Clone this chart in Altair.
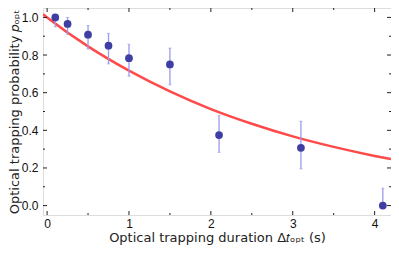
import altair as alt
import pandas as pd

# measured points
dur = [0.1, 0.25, 0.5, 0.75, 1.0, 1.5, 2.1, 3.1, 4.1]
prob = [1.0, 0.965, 0.908, 0.85, 0.783, 0.75, 0.375, 0.307, 0.0]
err_lo = [0.95, 0.91, 0.832, 0.753, 0.687, 0.642, 0.283, 0.195, 0.0]
err_hi = [1.0, 1.0, 0.957, 0.915, 0.857, 0.837, 0.478, 0.448, 0.092]

# fitted curve
fit_x = [-0.05, 0.0, 0.5, 1.0, 1.5, 2.0, 2.5, 3.0, 3.5, 4.0, 4.2]
fit_y = [1.017, 1.0, 0.846, 0.717, 0.607, 0.513, 0.435, 0.368, 0.312, 0.264, 0.247]

# axis ticks
x_major = [0, 1, 2, 3, 4]
x_minor = [0.5, 1.5, 2.5, 3.5]
y_major = [0.0, 0.2, 0.4, 0.6, 0.8, 1.0]
y_minor = [0.1, 0.3, 0.5, 0.7, 0.9]

W, H = 348, 207
XDOM = [-0.05, 4.2]
YDOM = [-0.05, 1.05]

pts = pd.DataFrame({"x": dur, "y": prob, "lo": err_lo, "hi": err_hi})
fit = pd.DataFrame({"x": fit_x, "y": fit_y})

xs = alt.Scale(domain=XDOM, nice=False, zero=False)
ys = alt.Scale(domain=YDOM, nice=False, zero=False)

xaxis = alt.Axis(values=x_major, format="d", tickSize=0, domain=False, grid=False,
                 labelFont="Liberation Sans", labelFontSize=12, labelColor="#111",
                 labelPadding=3, title="Optical trapping duration Δ𝑡ₒₚₜ (s)",
                 titleFont="DejaVu Sans", titleFontSize=13, titleFontWeight="normal",
                 titleColor="#222", titleY=16, titleBaseline="top")
yaxis = alt.Axis(values=y_major, format=".1f", tickSize=0, domain=False, grid=False,
                 labelFont="Liberation Sans", labelFontSize=12, labelColor="#111",
                 labelPadding=5, title="Optical trapping probability 𝑝ₒₚₜ",
                 titleFont="DejaVu Sans", titleFontSize=13, titleFontWeight="normal",
                 titleColor="#222", titleX=-22, titleBaseline="bottom")


def X(field):
    return alt.X(field, type="quantitative", scale=xs, axis=xaxis)


def Y(field):
    return alt.Y(field, type="quantitative", scale=ys, axis=yaxis)


curve = alt.Chart(fit).mark_line(color="#ff4a4a", strokeWidth=2.5, clip=True,
                                 interpolate="monotone").encode(x=X("x"), y=Y("y"))

bars = alt.Chart(pts).mark_rule(color="#9a9aee", strokeWidth=1.3).encode(
    x=X("x"), y=Y("lo"), y2="hi:Q")
cap_lo = alt.Chart(pts).mark_tick(color="#9a9aee", orient="horizontal", size=3,
                                  thickness=1).encode(x=X("x"), y=Y("lo"))
cap_hi = alt.Chart(pts).mark_tick(color="#9a9aee", orient="horizontal", size=3,
                                  thickness=1).encode(x=X("x"), y=Y("hi"))

dots = alt.Chart(pts).mark_circle(color="#3f3fa3", size=60, opacity=1).encode(
    x=X("x"), y=Y("y"))


def yticks(vals, length, right):
    df = pd.DataFrame({"v": vals})
    if right:
        xv, x2v = W, W - length
    else:
        xv, x2v = 0, length
    return alt.Chart(df).mark_rule(color="#222", strokeWidth=1).encode(
        y=Y("v"), x=alt.value(xv), x2=alt.value(x2v))


def xticks(vals, length, top):
    df = pd.DataFrame({"v": vals})
    if top:
        yv, y2v = 0, length
    else:
        yv, y2v = H, H - length
    return alt.Chart(df).mark_rule(color="#222", strokeWidth=1).encode(
        x=X("v"), y=alt.value(yv), y2=alt.value(y2v))


ticks = [
    yticks(y_major, 4, False), yticks(y_major, 4, True),
    yticks(y_minor, 2, False), yticks(y_minor, 2, True),
    xticks(x_major, 4, False), xticks(x_major, 4, True),
    xticks(x_minor, 2, False), xticks(x_minor, 2, True),
]

chart = alt.layer(curve, *ticks, bars, cap_lo, cap_hi, dots).properties(
    width=W, height=H,
    autosize=alt.AutoSizeParams(type="none"),
    padding={"left": 35, "top": 0, "right": 0, "bottom": 31},
).configure_view(stroke="#222", strokeWidth=1).configure(background="white")

chart.save("out.html", embed_options={"renderer": "svg", "actions": False})
